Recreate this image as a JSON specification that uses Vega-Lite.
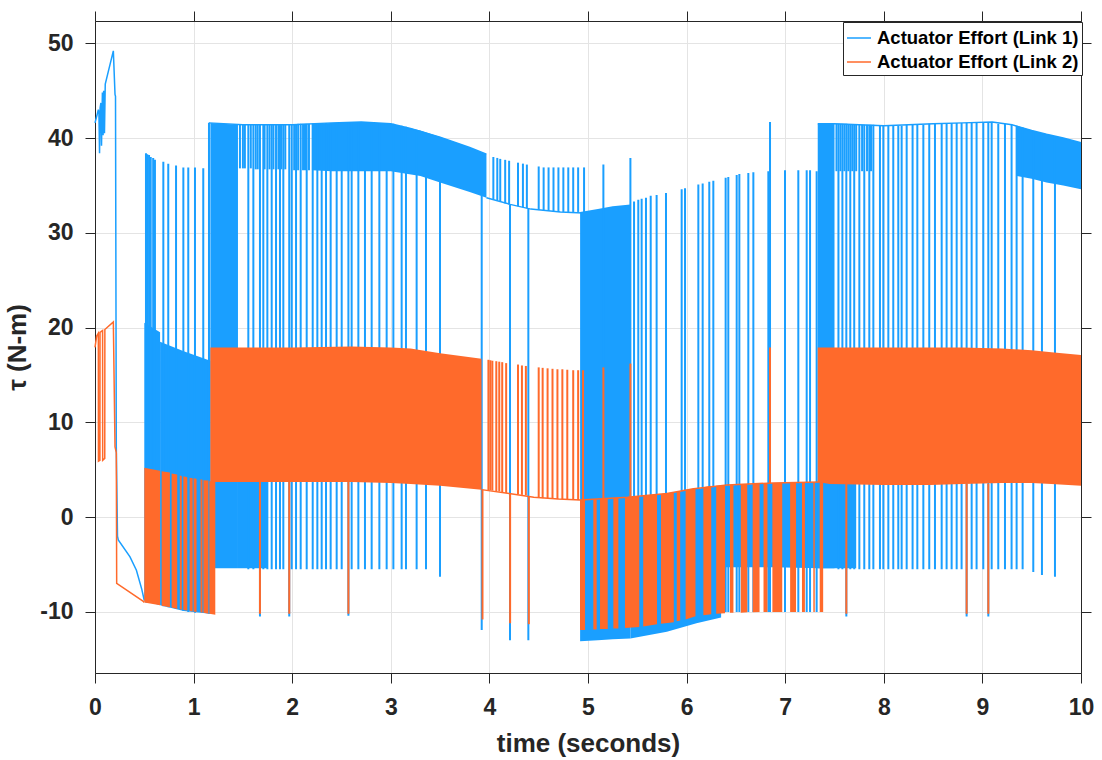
{
"$schema": "https://vega.github.io/schema/vega-lite/v6.json",
"width": 986, "height": 652,
"autosize": {"type": "none"},
"padding": {"left": 95, "top": 21, "right": 21, "bottom": 87},
"background": "white",
"config": {"view": {"stroke": "#262626", "strokeWidth": 1}, "font": "Liberation Sans"},
"datasets": {
"bb": [
{"g":"A1","t":0.50,"lo":-8.8,"hi":20.5},{"g":"A1","t":0.66,"lo":-9.3,"hi":19.5},
{"g":"A2","t":0.66,"lo":-9.3,"hi":18.5},{"g":"A2","t":0.9,"lo":-9.9,"hi":17.5},{"g":"A2","t":1.17,"lo":-10.2,"hi":16.5},
{"g":"B0","t":1.17,"lo":-5.4,"hi":41.6},{"g":"B0","t":1.45,"lo":-5.4,"hi":41.4},
{"g":"B0b","t":1.45,"lo":-5.4,"hi":4.0},{"g":"B0b","t":1.75,"lo":-5.4,"hi":4.0},
{"g":"BT","t":2.2,"lo":36.6,"hi":41.5},{"g":"BT","t":2.4,"lo":36.5,"hi":41.6},{"g":"BT","t":2.7,"lo":36.5,"hi":41.7},{"g":"BT","t":3.0,"lo":36.5,"hi":41.5},{"g":"BT","t":3.3,"lo":36.0,"hi":40.8},{"g":"BT","t":3.5,"lo":35.3,"hi":40.1},{"g":"BT","t":3.8,"lo":34.3,"hi":39.0},{"g":"BT","t":3.97,"lo":33.7,"hi":38.3},
{"g":"C1a","t":4.92,"lo":-13.1,"hi":32.2},{"g":"C1a","t":5.1,"lo":-13.0,"hi":32.5},{"g":"C1a","t":5.25,"lo":-12.9,"hi":32.8},{"g":"C1a","t":5.43,"lo":-12.8,"hi":33.0},
{"g":"C1b","t":5.43,"lo":-12.8,"hi":2.1},{"g":"C1b","t":5.8,"lo":-12.1,"hi":2.5},{"g":"C1b","t":6.1,"lo":-11.2,"hi":3.0},{"g":"C1b","t":6.35,"lo":-10.6,"hi":3.3},
{"g":"C2","t":6.35,"lo":-5.3,"hi":3.3},{"g":"C2","t":6.88,"lo":-5.3,"hi":3.6},{"g":"C2","t":7.35,"lo":-5.4,"hi":3.7},{"g":"C2","t":7.72,"lo":-5.4,"hi":3.6},
{"g":"D0","t":7.33,"lo":-5.4,"hi":41.5},{"g":"D0","t":7.5,"lo":-5.4,"hi":41.5},
{"g":"DT","t":9.35,"lo":36.0,"hi":41.3},{"g":"DT","t":9.5,"lo":35.7,"hi":40.8},{"g":"DT","t":9.65,"lo":35.3,"hi":40.4},{"g":"DT","t":9.82,"lo":35.0,"hi":40.0},{"g":"DT","t":10,"lo":34.6,"hi":39.5}
],
"br": [
{"t":0.517,"a":-9,"b":38.4},{"t":0.53,"a":-9,"b":38.3},{"t":0.548,"a":-9,"b":38.2},{"t":0.565,"a":-9,"b":38.0},{"t":0.59,"a":-9,"b":37.9},{"t":0.608,"a":-9,"b":37.7},{"t":0.693,"a":-9.4,"b":37.5},{"t":0.743,"a":-9.5,"b":37.3},{"t":0.822,"a":-9.7,"b":37.1},{"t":0.896,"a":-9.9,"b":36.9},{"t":0.946,"a":-10,"b":36.9},{"t":1.014,"a":-10.1,"b":36.9},{"t":1.098,"a":-10.1,"b":36.8},{"t":1.156,"a":-10.2,"b":41.6},
{"t":1.47,"a":36.8,"b":41.4},{"t":1.5,"a":36.8,"b":41.4},{"t":1.52,"a":36.8,"b":41.4},{"t":1.58,"a":36.8,"b":41.4},{"t":1.63,"a":36.7,"b":41.4},{"t":1.65,"a":36.7,"b":41.4},{"t":1.72,"a":36.7,"b":41.4},{"t":1.77,"a":36.7,"b":41.4},{"t":1.81,"a":36.7,"b":41.4},{"t":1.86,"a":36.7,"b":41.4},{"t":1.89,"a":36.7,"b":41.4},{"t":1.93,"a":36.7,"b":41.4},{"t":2.02,"a":36.6,"b":41.4},{"t":2.06,"a":36.6,"b":41.5},{"t":2.11,"a":36.6,"b":41.5},{"t":2.13,"a":36.6,"b":41.5},{"t":2.17,"a":36.6,"b":41.5},
{"t":1.555,"a":-5.5,"b":41.4},{"t":1.606,"a":-5.5,"b":41.4},{"t":1.673,"a":-10.5,"b":41.4},{"t":1.707,"a":-5.5,"b":41.4},{"t":1.748,"a":-5.5,"b":41.4},{"t":1.792,"a":-5.5,"b":41.4},{"t":1.836,"a":-5.5,"b":41.4},{"t":1.876,"a":-5.5,"b":41.4},{"t":1.91,"a":-5.5,"b":41.4},{"t":1.97,"a":-10.5,"b":41.4},{"t":1.995,"a":-5.5,"b":41.4},{"t":2.039,"a":-5.5,"b":41.4},{"t":2.086,"a":-5.5,"b":41.5},{"t":2.147,"a":-5.5,"b":41.5},{"t":2.208,"a":-5.5,"b":41.5},{"t":2.255,"a":-5.5,"b":41.5},{"t":2.299,"a":-5.5,"b":41.5},{"t":2.343,"a":-5.5,"b":41.6},{"t":2.39,"a":-5.5,"b":41.6},{"t":2.451,"a":-5.5,"b":41.6},{"t":2.502,"a":-5.5,"b":41.6},{"t":2.57,"a":-10.4,"b":41.7},{"t":2.603,"a":-5.5,"b":41.7},{"t":2.671,"a":-5.5,"b":41.7},{"t":2.738,"a":-5.5,"b":41.7},{"t":2.806,"a":-5.5,"b":41.6},{"t":2.884,"a":-5.5,"b":41.6},{"t":2.958,"a":-5.5,"b":41.5},{"t":3.026,"a":-5.5,"b":41.5},{"t":3.11,"a":-5.5,"b":41.3},{"t":3.154,"a":-5.5,"b":41.2},{"t":3.262,"a":-5.5,"b":40.8},{"t":3.357,"a":-5.5,"b":40.5},{"t":3.499,"a":-6.3,"b":40.1},{"t":3.922,"a":-11.9,"b":38.4},{"t":4.209,"a":-13,"b":33.0},{"t":4.395,"a":-13,"b":32.6},
{"t":4.04,"a":33.5,"b":38.0},{"t":4.08,"a":33.4,"b":37.9},{"t":4.11,"a":33.3,"b":37.8},{"t":4.16,"a":33.1,"b":37.7},{"t":4.20,"a":33.0,"b":37.6},{"t":4.29,"a":32.8,"b":37.4},{"t":4.34,"a":32.7,"b":37.3},{"t":4.38,"a":32.6,"b":37.2},{"t":4.50,"a":32.4,"b":37.0},{"t":4.55,"a":32.3,"b":36.9},{"t":4.60,"a":32.3,"b":36.9},{"t":4.65,"a":32.2,"b":36.9},{"t":4.70,"a":32.2,"b":36.9},{"t":4.75,"a":32.2,"b":36.9},{"t":4.80,"a":32.2,"b":36.9},{"t":4.85,"a":32.2,"b":36.9},{"t":4.90,"a":32.2,"b":36.9},{"t":4.96,"a":32.1,"b":36.9},
{"t":5.156,"a":-10,"b":37.2},{"t":5.43,"a":-10,"b":37.9},{"t":5.467,"a":-10,"b":33.3},{"t":5.51,"a":-10,"b":33.5},{"t":5.544,"a":-10,"b":33.6},{"t":5.588,"a":-10,"b":33.7},{"t":5.636,"a":-10,"b":33.9},{"t":5.696,"a":-10,"b":34.0},{"t":5.791,"a":-10,"b":34.2},{"t":5.95,"a":-10,"b":34.6},{"t":5.984,"a":-10,"b":34.7},{"t":6.119,"a":-10,"b":35.1},{"t":6.163,"a":-10,"b":35.2},{"t":6.23,"a":-10,"b":35.4},{"t":6.271,"a":-10,"b":35.5},{"t":6.396,"a":-10,"b":35.8},{"t":6.423,"a":-10,"b":35.9},{"t":6.508,"a":-10,"b":36.1},{"t":6.535,"a":-10,"b":36.2},{"t":6.626,"a":-10,"b":36.3},{"t":6.677,"a":-10,"b":36.4},{"t":6.829,"a":-10,"b":36.5},{"t":6.846,"a":-10,"b":41.7},{"t":6.998,"a":-10,"b":36.6},{"t":7.133,"a":-10,"b":36.6},{"t":7.218,"a":-10,"b":36.6},{"t":7.252,"a":-10,"b":36.6},{"t":7.319,"a":-10,"b":36.5},
{"t":7.52,"a":36.5,"b":41.5},{"t":7.56,"a":36.5,"b":41.5},{"t":7.6,"a":36.5,"b":41.5},{"t":7.64,"a":36.5,"b":41.4},{"t":7.68,"a":36.5,"b":41.4},{"t":7.72,"a":36.5,"b":41.4},{"t":7.78,"a":36.5,"b":41.4},{"t":7.83,"a":36.5,"b":41.4},{"t":7.87,"a":36.5,"b":41.4},
{"t":7.54,"a":-5.5,"b":41.5},{"t":7.58,"a":-5.5,"b":41.5},{"t":7.62,"a":-10.5,"b":41.5},{"t":7.66,"a":-5.5,"b":41.4},{"t":7.70,"a":-5.5,"b":41.4},{"t":7.752,"a":-5.5,"b":41.4},{"t":7.802,"a":-5.5,"b":41.4},{"t":7.853,"a":-5.5,"b":41.4},{"t":7.894,"a":-5.5,"b":41.4},{"t":7.961,"a":-5.5,"b":41.3},{"t":7.995,"a":-5.5,"b":41.3},{"t":8.046,"a":-5.5,"b":41.3},{"t":8.096,"a":-5.5,"b":41.3},{"t":8.147,"a":-5.5,"b":41.3},{"t":8.181,"a":-5.5,"b":41.3},{"t":8.232,"a":-5.5,"b":41.4},{"t":8.292,"a":-5.5,"b":41.4},{"t":8.34,"a":-5.5,"b":41.4},{"t":8.401,"a":-5.5,"b":41.4},{"t":8.461,"a":-5.5,"b":41.5},{"t":8.519,"a":-5.5,"b":41.5},{"t":8.587,"a":-5.5,"b":41.5},{"t":8.637,"a":-5.5,"b":41.6},{"t":8.688,"a":-5.5,"b":41.6},{"t":8.739,"a":-5.5,"b":41.6},{"t":8.789,"a":-5.5,"b":41.6},{"t":8.84,"a":-10.5,"b":41.6},{"t":8.891,"a":-5.5,"b":41.6},{"t":8.941,"a":-5.5,"b":41.7},{"t":9.009,"a":-5.5,"b":41.7},{"t":9.06,"a":-10.5,"b":41.7},{"t":9.094,"a":-5.5,"b":41.7},{"t":9.161,"a":-5.5,"b":41.5},{"t":9.229,"a":-5.5,"b":41.5},{"t":9.296,"a":-5.5,"b":41.4},{"t":9.347,"a":-5.5,"b":41.3},{"t":9.408,"a":-5.5,"b":41.1},{"t":9.516,"a":-5.8,"b":40.7},{"t":9.604,"a":-6.1,"b":40.5},{"t":9.736,"a":-6.3,"b":40.1}
],
"bl": [
{"g":"t","t":0,"v":41.6},{"g":"t","t":0.02,"v":42.4},{"g":"t","t":0.034,"v":43.0},{"g":"t","t":0.04,"v":42.6},{"g":"t","t":0.046,"v":38.4},{"g":"t","t":0.052,"v":43.2},{"g":"t","t":0.06,"v":43.7},{"g":"t","t":0.066,"v":39.2},{"g":"t","t":0.075,"v":44.8},{"g":"t","t":0.082,"v":40.3},{"g":"t","t":0.088,"v":45.0},{"g":"t","t":0.096,"v":40.5},{"g":"t","t":0.104,"v":45.7},{"g":"t","t":0.186,"v":49.2},{"g":"t","t":0.203,"v":44.6},{"g":"t","t":0.208,"v":44.4},{"g":"t","t":0.216,"v":7.4},{"g":"t","t":0.228,"v":-2.0},{"g":"t","t":0.236,"v":-2.4},{"g":"t","t":0.355,"v":-4.2},{"g":"t","t":0.42,"v":-5.6},{"g":"t","t":0.474,"v":-7.6},{"g":"t","t":0.5,"v":-8.8},
{"g":"top1","t":1.156,"v":41.6},{"g":"top1","t":1.5,"v":41.4},{"g":"top1","t":2.0,"v":41.4},{"g":"top1","t":2.4,"v":41.6},{"g":"top1","t":2.7,"v":41.7},{"g":"top1","t":3.0,"v":41.5},{"g":"top1","t":3.2,"v":41.0},{"g":"top1","t":3.5,"v":40.1},{"g":"top1","t":3.8,"v":39.0},{"g":"top1","t":3.97,"v":38.3},
{"g":"mid1","t":3.97,"v":33.7},{"g":"mid1","t":4.21,"v":33.0},{"g":"mid1","t":4.42,"v":32.5},{"g":"mid1","t":4.72,"v":32.2},{"g":"mid1","t":4.95,"v":32.1},
{"g":"top2","t":7.33,"v":41.5},{"g":"top2","t":7.5,"v":41.5},{"g":"top2","t":8.0,"v":41.3},{"g":"top2","t":8.5,"v":41.5},{"g":"top2","t":8.8,"v":41.6},{"g":"top2","t":9.1,"v":41.7},{"g":"top2","t":9.3,"v":41.4},{"g":"top2","t":9.5,"v":40.8},{"g":"top2","t":9.65,"v":40.4},{"g":"top2","t":9.82,"v":40.0},{"g":"top2","t":10,"v":39.5}
],
"ob": [
{"g":"a1","t":0.50,"lo":-9.0,"hi":5.2},{"g":"a1","t":0.66,"lo":-9.3,"hi":4.9},
{"g":"a2","t":0.676,"lo":-9.35,"hi":4.85},{"g":"a2","t":0.76,"lo":-9.5,"hi":4.7},
{"g":"a3","t":0.777,"lo":-9.55,"hi":4.6},{"g":"a3","t":0.834,"lo":-9.7,"hi":4.5},
{"g":"a4","t":0.86,"lo":-9.7,"hi":4.4},{"g":"a4","t":0.88,"lo":-9.8,"hi":4.35},
{"g":"a5","t":0.896,"lo":-9.8,"hi":4.3},{"g":"a5","t":0.936,"lo":-9.85,"hi":4.2},
{"g":"a6","t":0.96,"lo":-9.9,"hi":4.15},{"g":"a6","t":0.99,"lo":-9.95,"hi":4.1},
{"g":"a7","t":1.0,"lo":-9.95,"hi":4.1},{"g":"a7","t":1.03,"lo":-10.0,"hi":4.05},
{"g":"a8","t":1.07,"lo":-10.05,"hi":4.0},{"g":"a8","t":1.09,"lo":-10.1,"hi":3.95},
{"g":"a9","t":1.1,"lo":-10.1,"hi":3.9},{"g":"a9","t":1.15,"lo":-10.2,"hi":3.85},
{"g":"a10","t":1.16,"lo":-10.2,"hi":3.8},{"g":"a10","t":1.22,"lo":-10.3,"hi":3.7},
{"g":"B","t":1.17,"lo":3.7,"hi":17.9},{"g":"B","t":2.0,"lo":3.7,"hi":17.9},{"g":"B","t":2.6,"lo":3.7,"hi":18.0},{"g":"B","t":3.0,"lo":3.6,"hi":17.9},{"g":"B","t":3.2,"lo":3.5,"hi":17.8},{"g":"B","t":3.5,"lo":3.3,"hi":17.3},{"g":"B","t":3.92,"lo":2.9,"hi":16.7},
{"g":"c1","t":4.919,"lo":-11.9,"hi":1.8},{"g":"c1","t":4.97,"lo":-11.9,"hi":1.8},
{"g":"c2","t":5.054,"lo":-11.85,"hi":1.85},{"g":"c2","t":5.088,"lo":-11.85,"hi":1.9},
{"g":"c3","t":5.122,"lo":-11.8,"hi":1.9},{"g":"c3","t":5.2,"lo":-11.8,"hi":2.0},
{"g":"c4","t":5.257,"lo":-11.75,"hi":2.0},{"g":"c4","t":5.308,"lo":-11.75,"hi":2.05},
{"g":"c5","t":5.375,"lo":-11.7,"hi":2.1},{"g":"c5","t":5.52,"lo":-11.6,"hi":2.2},
{"g":"c5b","t":5.56,"lo":-11.55,"hi":2.25},{"g":"c5b","t":5.70,"lo":-11.3,"hi":2.4},
{"g":"c5c","t":5.74,"lo":-11.25,"hi":2.45},{"g":"c5c","t":5.87,"lo":-11.1,"hi":2.6},
{"g":"c6","t":5.90,"lo":-11.0,"hi":2.65},{"g":"c6","t":5.935,"lo":-10.9,"hi":2.75},
{"g":"c7","t":5.99,"lo":-10.8,"hi":2.85},{"g":"c7","t":6.09,"lo":-10.45,"hi":3.05},
{"g":"c8","t":6.17,"lo":-10.35,"hi":3.15},{"g":"c8","t":6.25,"lo":-10.25,"hi":3.3},
{"g":"c9","t":6.30,"lo":-10.2,"hi":3.3},{"g":"c9","t":6.39,"lo":-10.15,"hi":3.4},
{"g":"c10","t":6.44,"lo":-10.1,"hi":3.4},{"g":"c10","t":6.475,"lo":-10.1,"hi":3.42},
{"g":"c11","t":6.55,"lo":-10.1,"hi":3.45},{"g":"c11","t":6.615,"lo":-10.05,"hi":3.5},
{"g":"c12","t":6.67,"lo":-10.05,"hi":3.5},{"g":"c12","t":6.74,"lo":-10.0,"hi":3.55},
{"g":"c13","t":6.78,"lo":-10.0,"hi":3.55},{"g":"c13","t":6.82,"lo":-10.0,"hi":3.58},
{"g":"c14","t":6.87,"lo":-10.0,"hi":3.6},{"g":"c14","t":6.97,"lo":-10.0,"hi":3.6},
{"g":"c15","t":7.05,"lo":-10.0,"hi":3.62},{"g":"c15","t":7.11,"lo":-10.0,"hi":3.63},
{"g":"c16","t":7.17,"lo":-10.0,"hi":3.65},{"g":"c16","t":7.20,"lo":-10.0,"hi":3.66},
{"g":"c17","t":7.285,"lo":-10.0,"hi":3.68},{"g":"c17","t":7.30,"lo":-10.0,"hi":3.68},
{"g":"c18","t":7.35,"lo":-10.0,"hi":3.7},{"g":"c18","t":7.385,"lo":-10.0,"hi":3.7},
{"g":"D","t":7.33,"lo":3.7,"hi":17.9},{"g":"D","t":7.45,"lo":3.5,"hi":17.9},{"g":"D","t":8.0,"lo":3.4,"hi":17.9},{"g":"D","t":8.47,"lo":3.4,"hi":17.9},{"g":"D","t":8.8,"lo":3.5,"hi":17.9},{"g":"D","t":9.2,"lo":3.6,"hi":17.8},{"g":"D","t":9.5,"lo":3.6,"hi":17.6},{"g":"D","t":9.7,"lo":3.5,"hi":17.4},{"g":"D","t":10,"lo":3.3,"hi":17.1}
],
"or": [
{"t":1.673,"a":-10.2,"b":3.7},{"t":1.97,"a":-10.2,"b":3.7},{"t":2.57,"a":-10.2,"b":3.7},{"t":3.93,"a":-10.8,"b":2.9},{"t":4.21,"a":-11.2,"b":2.5},{"t":4.40,"a":-11.3,"b":2.2},{"t":7.62,"a":-10.2,"b":3.5},{"t":8.84,"a":-10.2,"b":3.5},{"t":9.06,"a":-10.2,"b":3.5},
{"t":3.99,"a":2.85,"b":16.6},{"t":4.01,"a":2.85,"b":16.55},{"t":4.03,"a":2.8,"b":16.5},{"t":4.07,"a":2.75,"b":16.45},{"t":4.10,"a":2.7,"b":16.4},{"t":4.13,"a":2.65,"b":16.35},{"t":4.17,"a":2.55,"b":16.25},{"t":4.29,"a":2.4,"b":16.1},{"t":4.33,"a":2.35,"b":16.0},{"t":4.37,"a":2.3,"b":15.95},{"t":4.50,"a":2.05,"b":15.8},{"t":4.54,"a":2.0,"b":15.75},{"t":4.59,"a":2.0,"b":15.7},{"t":4.64,"a":1.95,"b":15.65},{"t":4.69,"a":1.9,"b":15.6},{"t":4.74,"a":1.9,"b":15.6},{"t":4.79,"a":1.85,"b":15.55},{"t":4.85,"a":1.85,"b":15.5},{"t":4.90,"a":1.8,"b":15.5},{"t":4.95,"a":1.8,"b":15.5},
{"t":5.156,"a":1.9,"b":15.8},{"t":5.43,"a":2.1,"b":16.2},{"t":6.846,"a":3.6,"b":17.9}
],
"ol": [
{"g":"t","t":0,"v":17.9},{"g":"t","t":0.017,"v":19.1},{"g":"t","t":0.034,"v":19.4},{"g":"t","t":0.035,"v":5.9},{"g":"t","t":0.05,"v":6.0},{"g":"t","t":0.051,"v":19.5},{"g":"t","t":0.077,"v":19.7},{"g":"t","t":0.078,"v":6.0},{"g":"t","t":0.099,"v":6.2},{"g":"t","t":0.1,"v":19.8},{"g":"t","t":0.186,"v":20.6},{"g":"t","t":0.203,"v":7.4},{"g":"t","t":0.216,"v":6.8},{"g":"t","t":0.22,"v":-7.0},{"g":"t","t":0.49,"v":-8.9},{"g":"t","t":0.5,"v":-9.0},
{"g":"m","t":3.92,"v":2.9},{"g":"m","t":4.2,"v":2.5},{"g":"m","t":4.45,"v":2.1},{"g":"m","t":4.7,"v":1.9},{"g":"m","t":4.92,"v":1.8},{"g":"m","t":5.4,"v":2.1},{"g":"m","t":5.8,"v":2.5},{"g":"m","t":6.07,"v":3.0},{"g":"m","t":6.41,"v":3.4},{"g":"m","t":6.88,"v":3.6},{"g":"m","t":7.35,"v":3.7}
]
},
"resolve": {"axis": {"x": "independent", "y": "independent"}},
"layer": [
{"data": {"name": "bb"}, "mark": {"type": "area", "color": "#1a9fff", "opacity": 1},
 "encoding": {
  "x": {"field": "t", "type": "quantitative", "scale": {"domain": [0, 10], "nice": false, "zero": false},
   "axis": {"orient": "bottom", "values": [0,1,2,3,4,5,6,7,8,9,10], "labelExpr": "'' + datum.value", "tickSize": 10, "tickColor": "#262626", "domainColor": "#262626", "labelFont": "Liberation Sans", "labelFontSize": 23, "labelFontWeight": "bold", "labelColor": "#262626", "labelPadding": 13, "labelFlush": false, "labelOverlap": false, "grid": true, "gridColor": "#e4e4e4", "title": "time (seconds)", "titleFont": "Liberation Sans", "titleFontSize": 26, "titleFontWeight": "bold", "titleColor": "#262626", "titlePadding": 11}},
  "y": {"field": "lo", "type": "quantitative", "scale": {"domain": [-16.45, 52.35], "nice": false, "zero": false},
   "axis": {"orient": "left", "values": [-10,0,10,20,30,40,50], "labelExpr": "'' + datum.value", "tickSize": 10, "tickColor": "#262626", "domainColor": "#262626", "labelFont": "Liberation Sans", "labelFontSize": 23, "labelFontWeight": "bold", "labelColor": "#262626", "labelPadding": 12, "labelFlush": false, "labelOverlap": false, "grid": true, "gridColor": "#e4e4e4", "title": "τ (N-m)", "titleFont": "Liberation Sans", "titleFontSize": 26, "titleFontWeight": "bold", "titleColor": "#262626", "titlePadding": 9}},
  "y2": {"field": "hi"},
  "detail": {"field": "g"}
 }},
{"data": {"name": "br"}, "mark": {"type": "rule", "color": "#1a9fff", "strokeWidth": 2},
 "encoding": {
  "x": {"field": "t", "type": "quantitative", "scale": {"domain": [0, 10], "nice": false, "zero": false},
   "axis": {"orient": "top", "values": [0,1,2,3,4,5,6,7,8,9,10], "labels": false, "tickSize": 10, "tickColor": "#262626", "domainColor": "#262626", "grid": false, "title": null}},
  "y": {"field": "a", "type": "quantitative", "scale": {"domain": [-16.45, 52.35], "nice": false, "zero": false},
   "axis": {"orient": "right", "values": [-10,0,10,20,30,40,50], "labels": false, "tickSize": 10, "tickColor": "#262626", "domainColor": "#262626", "grid": false, "title": null}},
  "y2": {"field": "b"}
 }},
{"data": {"name": "bl"}, "mark": {"type": "line", "strokeWidth": 1.5},
 "encoding": {
  "x": {"field": "t", "type": "quantitative", "scale": {"domain": [0, 10], "nice": false, "zero": false}, "axis": null},
  "y": {"field": "v", "type": "quantitative", "scale": {"domain": [-16.45, 52.35], "nice": false, "zero": false}, "axis": null},
  "detail": {"field": "g"},
  "color": {"datum": "Actuator Effort (Link 1)", "scale": {"domain": ["Actuator Effort (Link 1)", "Actuator Effort (Link 2)"], "range": ["#1a9fff", "#ff6a2b"]},
   "legend": {"orient": "none", "legendX": 748, "legendY": 1, "title": null, "symbolType": "stroke", "symbolSize": 576, "symbolStrokeWidth": 1.5, "labelFont": "Liberation Sans", "labelFontSize": 18.5, "labelFontWeight": "bold", "labelColor": "#000000", "labelLimit": 0, "labelOffset": 5, "strokeColor": "#262626", "fillColor": "#ffffff", "padding": 3, "rowPadding": 1}}
 }},
{"data": {"name": "ob"}, "mark": {"type": "area", "color": "#ff6a2b", "opacity": 1},
 "encoding": {
  "x": {"field": "t", "type": "quantitative", "scale": {"domain": [0, 10], "nice": false, "zero": false}, "axis": null},
  "y": {"field": "lo", "type": "quantitative", "scale": {"domain": [-16.45, 52.35], "nice": false, "zero": false}, "axis": null},
  "y2": {"field": "hi"},
  "detail": {"field": "g"}
 }},
{"data": {"name": "or"}, "mark": {"type": "rule", "color": "#ff6a2b", "strokeWidth": 2},
 "encoding": {
  "x": {"field": "t", "type": "quantitative", "scale": {"domain": [0, 10], "nice": false, "zero": false}, "axis": null},
  "y": {"field": "a", "type": "quantitative", "scale": {"domain": [-16.45, 52.35], "nice": false, "zero": false}, "axis": null},
  "y2": {"field": "b"}
 }},
{"data": {"name": "ol"}, "mark": {"type": "line", "strokeWidth": 1.5},
 "encoding": {
  "x": {"field": "t", "type": "quantitative", "scale": {"domain": [0, 10], "nice": false, "zero": false}, "axis": null},
  "y": {"field": "v", "type": "quantitative", "scale": {"domain": [-16.45, 52.35], "nice": false, "zero": false}, "axis": null},
  "detail": {"field": "g"},
  "color": {"datum": "Actuator Effort (Link 2)", "scale": {"domain": ["Actuator Effort (Link 1)", "Actuator Effort (Link 2)"], "range": ["#1a9fff", "#ff6a2b"]}}
 }}
]
}
